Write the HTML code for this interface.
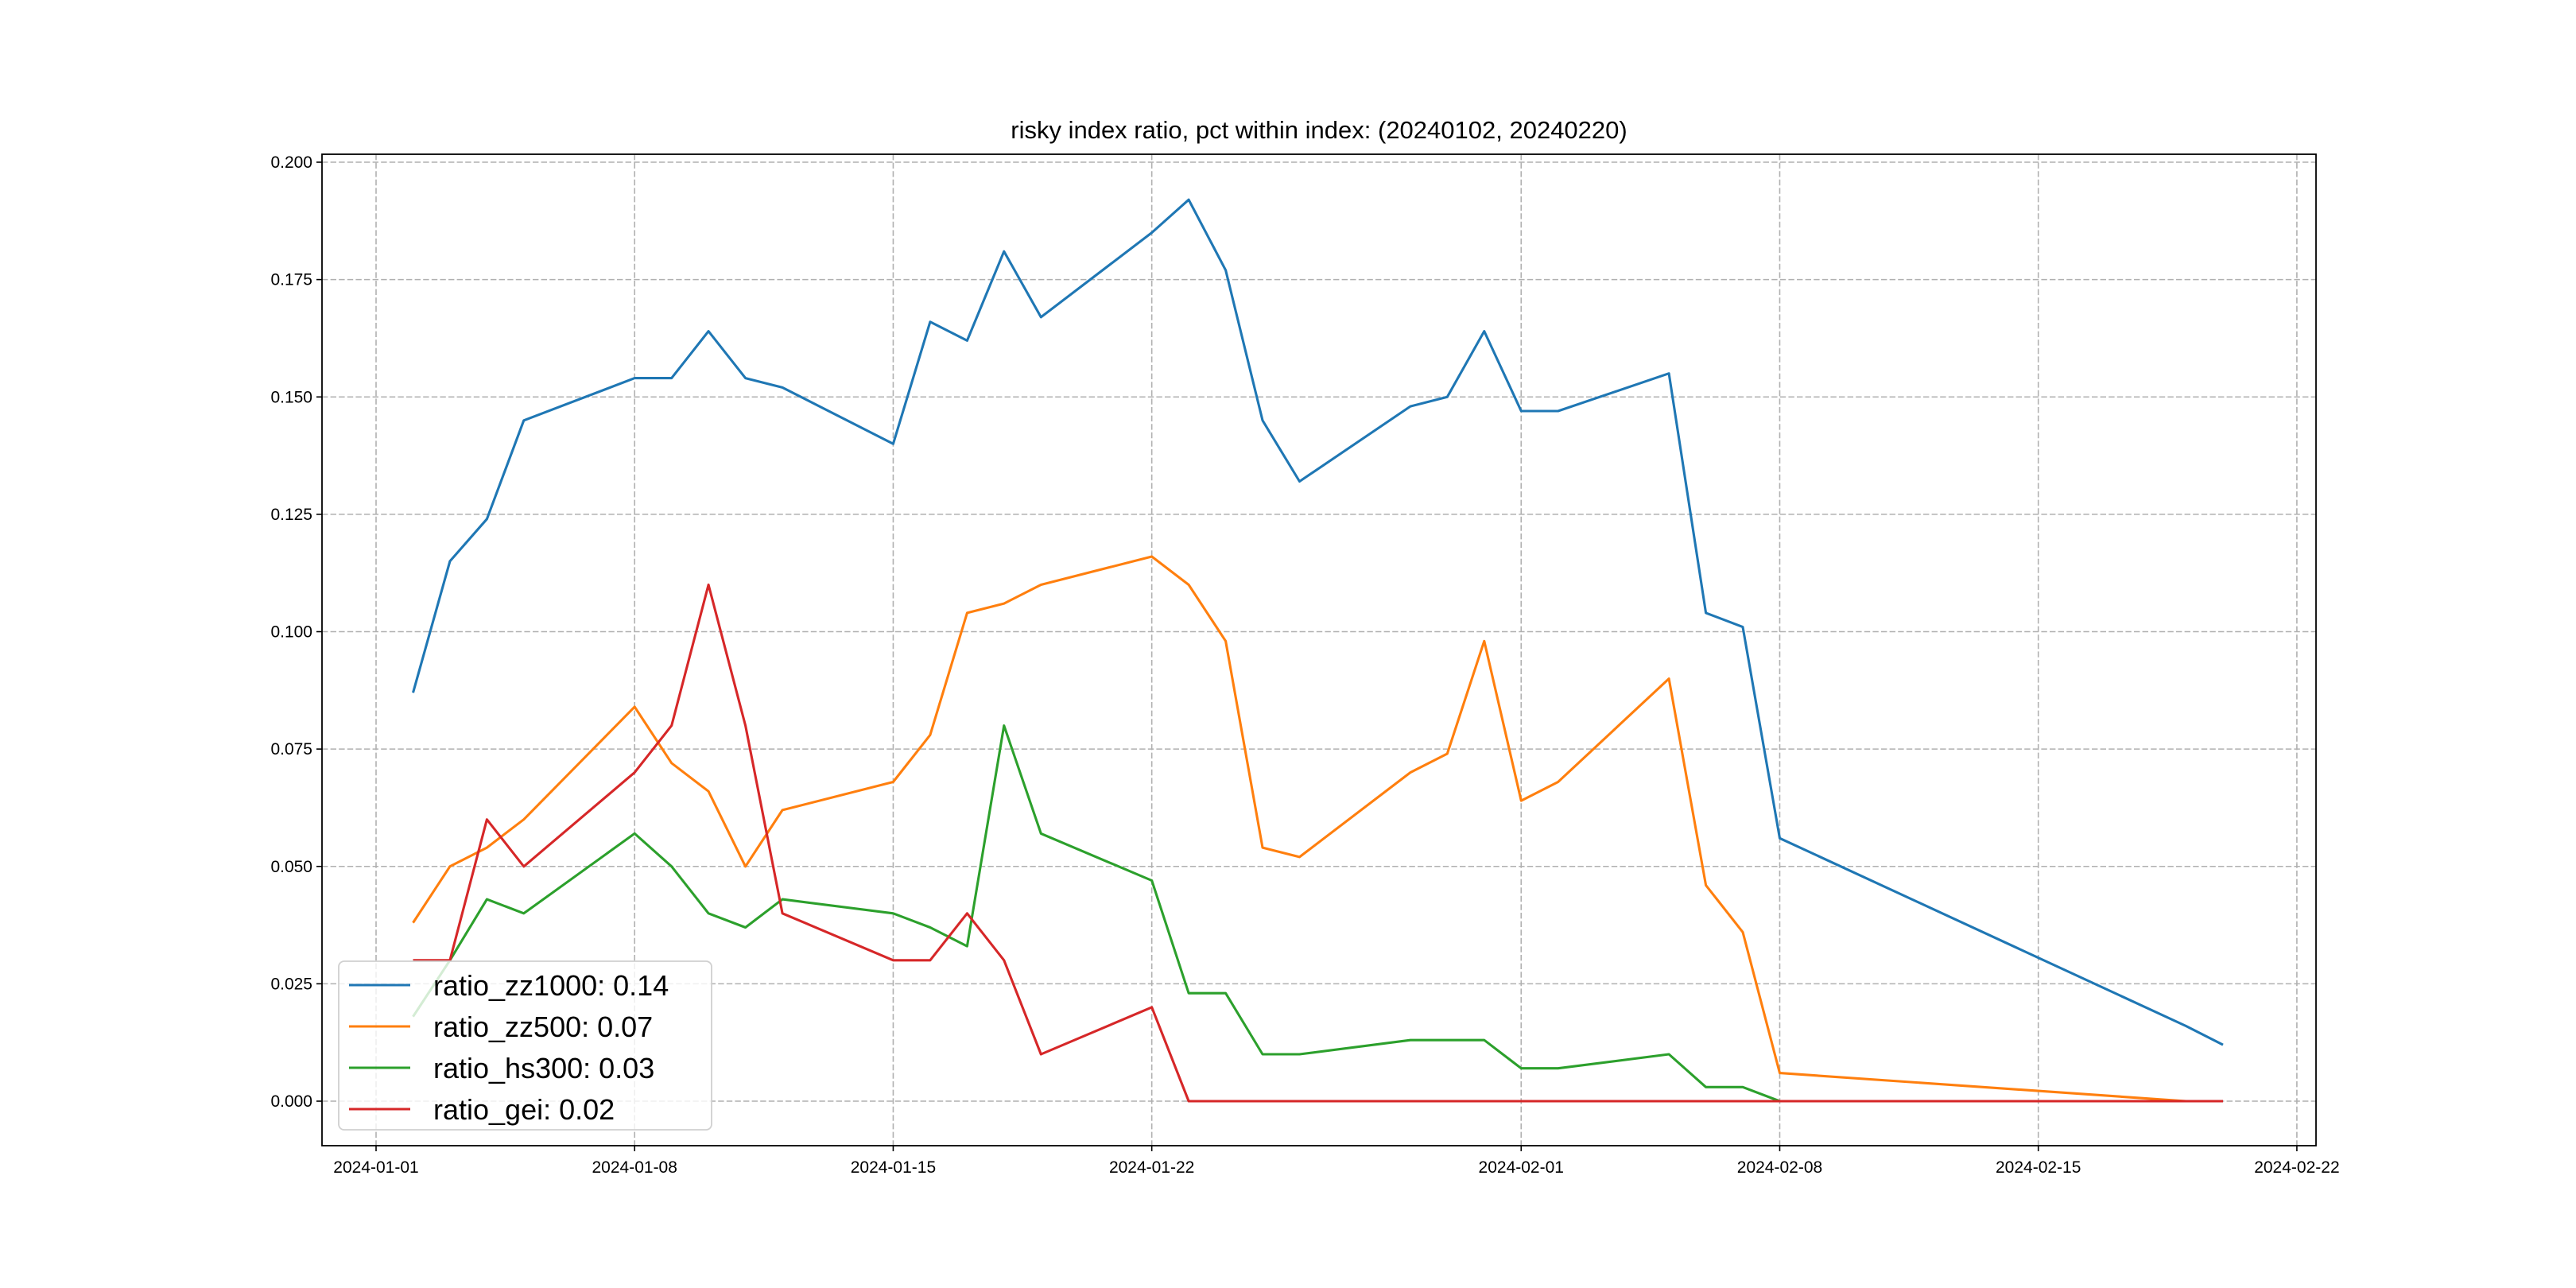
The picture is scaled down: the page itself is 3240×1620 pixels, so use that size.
<!DOCTYPE html>
<html><head><meta charset="utf-8"><style>html,body{margin:0;padding:0;background:#fff}svg{display:block}text{font-family:"WenQuanYi Zen Hei","Liberation Sans",sans-serif;fill:#000}</style></head>
<body>
<svg id="s" width="3240" height="1620" xmlns="http://www.w3.org/2000/svg"></svg>
<script>
const L=405,R=2913,T=194,B=1441;
const X=d=>473+d*46.46, Y=v=>1385-v*5905;
const days=[1,2,3,4,7,8,9,10,11,14,15,16,17,18,21,22,23,24,25,28,29,30,31,32,35,36,37,38,49,50];
const S=[
["#1f77b4","ratio_zz1000: 0.14",[.087,.115,.124,.145,.154,.154,.164,.154,.152,.140,.166,.162,.181,.167,.185,.192,.177,.145,.132,.148,.150,.164,.147,.147,.155,.104,.101,.056,.016,.012]],
["#ff7f0e","ratio_zz500: 0.07",[.038,.050,.054,.060,.084,.072,.066,.050,.062,.068,.078,.104,.106,.110,.116,.110,.098,.054,.052,.070,.074,.098,.064,.068,.090,.046,.036,.006,0,0]],
["#2ca02c","ratio_hs300: 0.03",[.018,.030,.043,.040,.057,.050,.040,.037,.043,.040,.037,.033,.080,.057,.047,.023,.023,.010,.010,.013,.013,.013,.007,.007,.010,.003,.003,0,0,0]],
["#d62728","ratio_gei: 0.02",[.030,.030,.060,.050,.070,.080,.110,.080,.040,.030,.030,.040,.030,.010,.020,0,0,0,0,0,0,0,0,0,0,0,0,0,0,0]]];
let h='';
const grid='stroke="#b0b0b0" stroke-width="1.6" stroke-dasharray="7.4,3.2"';
const xt=[[0,"2024-01-01"],[7,"2024-01-08"],[14,"2024-01-15"],[21,"2024-01-22"],[31,"2024-02-01"],[38,"2024-02-08"],[45,"2024-02-15"],[52,"2024-02-22"]];
for(const [d,t] of xt){const x=X(d);h+=`<line x1="${x}" y1="${T}" x2="${x}" y2="${B}" ${grid}/><line x1="${x}" y1="${B}" x2="${x}" y2="${B+7}" stroke="#000" stroke-width="1.6"/><text x="${x}" y="${B+34}" font-size="21" text-anchor="middle">${t}</text>`;}
for(let i=0;i<=8;i++){const v=i*0.025,y=Y(v);h+=`<line x1="${L}" y1="${y}" x2="${R}" y2="${y}" ${grid}/><line x1="${L-7}" y1="${y}" x2="${L}" y2="${y}" stroke="#000" stroke-width="1.6"/><text x="${L-12}" y="${y+7}" font-size="21" text-anchor="end">${v.toFixed(3)}</text>`;}
for(const [c,n,v] of S){h+=`<polyline fill="none" stroke="${c}" stroke-width="3.1" stroke-linejoin="round" points="${v.map((a,i)=>X(days[i]).toFixed(1)+','+Y(a).toFixed(1)).join(' ')}"/>`;}
h+=`<rect x="${L}" y="${T}" width="${R-L}" height="${B-T}" fill="none" stroke="#000" stroke-width="1.8"/>`;
h+=`<text x="1659" y="174" font-size="31" text-anchor="middle">risky index ratio, pct within index: (20240102, 20240220)</text>`;
h+=`<rect x="426" y="1209" width="469" height="212" rx="7" fill="#fff" fill-opacity="0.8" stroke="#d0d0d0" stroke-width="1.8"/>`;
S.forEach(([c,n],i)=>{const y=1239+i*52;h+=`<line x1="439" y1="${y}" x2="516" y2="${y}" stroke="${c}" stroke-width="3.1"/><text x="545" y="${y+13}" font-size="36">${n}</text>`;});
document.getElementById('s').innerHTML=h;
</script>
</body></html>
